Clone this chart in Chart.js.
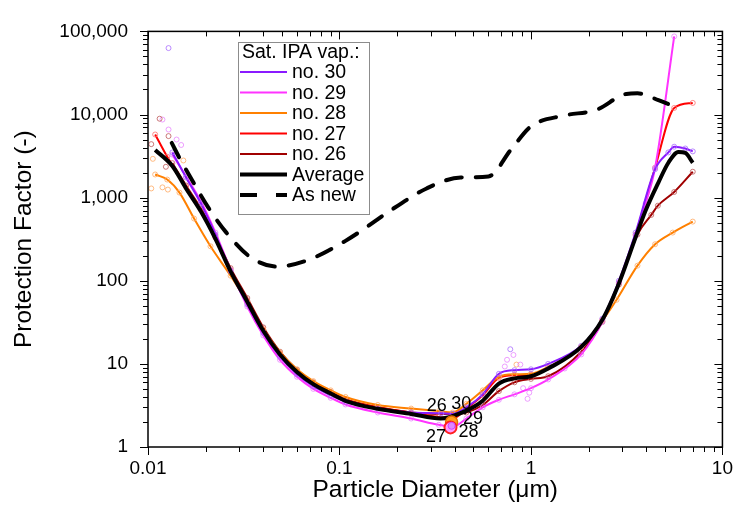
<!DOCTYPE html>
<html>
<head>
<meta charset="utf-8">
<script src="https://cdn.jsdelivr.net/npm/chart.js@4.4.1/dist/chart.umd.min.js"></script>
<style>
  body { margin: 0; background: #fff; }
</style>
</head>
<body>
<canvas id="myChart" width="743" height="513"></canvas>
<script>
// values: x = particle diameter (um), y = protection factor
var avgX = [0.0109, 0.0134, 0.0158, 0.0189, 0.0225, 0.027, 0.033, 0.04, 0.0489, 0.06, 0.073, 0.09, 0.1075, 0.1585, 0.2367, 0.337, 0.458, 0.56, 0.68, 0.82, 1.0, 1.23, 1.83, 2.36, 2.88, 3.52, 3.97, 4.63, 5.22, 5.89, 6.4, 7.0];
var avgY = [3740, 2400, 1290, 680, 320, 130, 56, 25, 13, 8, 5.7, 4.4, 3.6, 2.88, 2.5, 2.2, 2.73, 3.6, 5.8, 6.7, 7.1, 8.8, 16, 34, 93, 333, 700, 1520, 2630, 3540, 3450, 2630];

var newX = [0.0133, 0.0146, 0.017, 0.0207, 0.0256, 0.034, 0.047, 0.067, 0.107, 0.194, 0.285, 0.43, 0.6, 0.79, 1.0, 1.48, 2.2, 3.15, 3.6, 4.63, 5.2];
var newY = [4550, 3000, 1620, 755, 382, 195, 148, 174, 300, 755, 1290, 1750, 1800, 3830, 7200, 9700, 11400, 17700, 18000, 14900, 13400];

var s30X = [0.0134, 0.0158, 0.0189, 0.0225, 0.027, 0.033, 0.04, 0.0489, 0.06, 0.073, 0.09, 0.1075, 0.1585, 0.2367, 0.34, 0.39, 0.46, 0.56, 0.68, 0.82, 1.0, 1.23, 1.83, 2.36, 2.88, 3.52, 4.45, 5.22, 5.6, 6.4, 7.0];
var s30Y = [3500, 1750, 850, 360, 130, 52, 23.5, 12.2, 7.5, 5.4, 4.2, 3.5, 2.9, 2.6, 2.55, 2.5, 3.0, 4.3, 7.6, 8.4, 8.6, 10, 16.5, 35, 100, 380, 2200, 3500, 4100, 3900, 3600];

var s29X = [0.0134, 0.0158, 0.0189, 0.0225, 0.027, 0.033, 0.04, 0.0489, 0.06, 0.073, 0.09, 0.1075, 0.1585, 0.2367, 0.33, 0.39, 0.46, 0.56, 0.68, 0.82, 1.0, 1.23, 1.83, 2.36, 2.88, 3.52, 3.97, 4.45, 5.6];
var s29Y = [3300, 1800, 900, 380, 135, 49, 22, 11.2, 7.0, 5.0, 3.9, 3.25, 2.6, 2.2, 1.85, 1.75, 2.2, 3.0, 3.7, 4.3, 5.1, 6.5, 13, 32, 95, 350, 850, 2290, 87000];

var s28X = [0.0109, 0.0126, 0.0146, 0.0174, 0.0212, 0.027, 0.033, 0.04, 0.0489, 0.06, 0.073, 0.09, 0.1075, 0.1585, 0.2367, 0.33, 0.39, 0.46, 0.56, 0.68, 0.82, 1.0, 1.23, 1.83, 2.36, 2.8, 3.6, 4.45, 5.5, 7.0];
var s28Y = [1900, 1650, 1150, 560, 260, 115, 55, 26, 13.8, 8.6, 6.2, 4.8, 4.0, 3.2, 2.9, 2.7, 2.6, 3.3, 4.8, 7.0, 7.5, 7.6, 9.2, 16, 33, 59, 152, 275, 380, 515];

var s27X = [0.0109, 0.0126, 0.0158, 0.0189, 0.0225, 0.027, 0.033, 0.04, 0.0489, 0.06, 0.073, 0.09, 0.1075, 0.1585, 0.2367, 0.33, 0.39, 0.46, 0.56, 0.68, 0.82, 1.0, 1.23, 1.83, 2.36, 2.88, 3.52, 4.45, 5.6, 7.0];
var s27Y = [5750, 3100, 1350, 720, 330, 135, 58, 26, 13.4, 8.2, 5.9, 4.5, 3.7, 3.0, 2.6, 2.3, 2.2, 2.9, 4.2, 6.8, 7.3, 7.4, 9, 16, 34, 95, 360, 2290, 12000, 13800];

var s26X = [0.0134, 0.0158, 0.0189, 0.0225, 0.027, 0.033, 0.04, 0.0489, 0.06, 0.073, 0.09, 0.1075, 0.1585, 0.2367, 0.33, 0.39, 0.46, 0.56, 0.68, 0.82, 1.0, 1.23, 1.83, 2.36, 2.88, 3.6, 4.25, 4.6, 5.6, 7.0];
var s26Y = [2600, 1400, 740, 345, 142, 62, 27.5, 14, 8.5, 6.0, 4.6, 3.75, 3.0, 2.6, 2.5, 2.5, 2.6, 3.2, 4.7, 6.0, 6.6, 7.1, 14, 32, 90, 360, 620, 800, 1170, 2050];

// scattered raw readings that stand off the fitted lines
var rawX = [0.0128, 0.0119, 0.0115, 0.0104, 0.0106, 0.0104, 0.0119, 0.0127, 0.0128, 0.0128, 0.0141, 0.0149, 0.0153, 0.0124, 0.78, 0.75, 0.81, 0.73, 0.84, 0.88, 0.91, 0.96, 0.98, 1.5];
var rawY = [63000, 8700, 8900, 4400, 2930, 1290, 1330, 1250, 6600, 5500, 5000, 4300, 2800, 2350, 15, 11.2, 12.8, 9.3, 9.8, 9.8, 5.1, 3.8, 4.5, 8.8];
var rawSeries = ["no. 30", "no. 29", "no. 26", "no. 26", "no. 28", "no. 28", "no. 28", "no. 28", "no. 29", "no. 26", "no. 29", "no. 29", "no. 28", "no. 26", "no. 30", "no. 29", "no. 29", "no. 29", "no. 28", "no. 29", "no. 29", "no. 29", "no. 29", "no. 29"];

// minimum markers and their labels
var minX = [0.385, 0.38, 0.385];
var minY = [2.0, 1.72, 1.8];
var minLabels = ["26", "30", "29", "27", "28"];
var minLabelX = [0.322, 0.433, 0.498, 0.319, 0.472];
var minLabelY = [3.13, 3.3, 2.2, 1.31, 1.5];

var colors = {
  "no. 30": "#8a1aff",
  "no. 29": "#ff33ff",
  "no. 28": "#ff8000",
  "no. 27": "#ff0000",
  "no. 26": "#a00000"
};
var markColors = {
  "no. 30": "rgba(170,110,255,0.8)",
  "no. 29": "rgba(230,120,255,0.7)",
  "no. 28": "rgba(255,170,100,0.8)",
  "no. 27": "rgba(255,110,110,0.8)",
  "no. 26": "rgba(190,90,90,0.8)"
};

function pts(xs, ys) {
  return xs.map(function (x, i) { return { x: x, y: ys[i] }; });
}

function series(name, xs, ys) {
  return {
    label: name,
    data: pts(xs, ys),
    borderColor: colors[name],
    borderWidth: 2,
    cubicInterpolationMode: "monotone",
    pointRadius: 2.5,
    pointBorderWidth: 1,
    pointBorderColor: markColors[name],
    pointBackgroundColor: "rgba(0,0,0,0)",
    order: 3
  };
}

var legendItems = [
  { text: "no. 30", color: colors["no. 30"], width: 2 },
  { text: "no. 29", color: colors["no. 29"], width: 2 },
  { text: "no. 28", color: colors["no. 28"], width: 2 },
  { text: "no. 27", color: colors["no. 27"], width: 2 },
  { text: "no. 26", color: colors["no. 26"], width: 2 },
  { text: "Average", color: "#000", width: 4 },
  { text: "As new", color: "#000", width: 4, dash: [17, 19] }
];

var framePlugin = {
  id: "frame",
  afterDraw: function (chart) {
    var c = chart.ctx;
    var a = chart.chartArea;
    var xs = chart.scales.x, ys = chart.scales.y;
    c.save();
    c.strokeStyle = "#000";
    c.lineWidth = 1.5;
    c.strokeRect(a.left, a.top, a.right - a.left, a.bottom - a.top);
    c.lineWidth = 1;
    c.beginPath();
    var e, m, p, len;
    for (e = -2; e < 1; e++) {
      for (m = 1; m <= 10; m++) {
        if (m === 10 && e < 0) continue;
        p = Math.round(xs.getPixelForValue(m * Math.pow(10, e))) + 0.5;
        len = m === 1 || m === 10 ? 8 : 5;
        c.moveTo(p, a.bottom); c.lineTo(p, a.bottom + len);
        c.moveTo(p, a.top); c.lineTo(p, a.top + len);
      }
    }
    for (e = 0; e < 5; e++) {
      for (m = 1; m <= 10; m++) {
        if (m === 10 && e < 4) continue;
        p = Math.round(ys.getPixelForValue(m * Math.pow(10, e))) + 0.5;
        len = m === 1 || m === 10 ? 8 : 5;
        c.moveTo(a.left, p); c.lineTo(a.left - len, p);
        c.moveTo(a.right, p); c.lineTo(a.right - len, p);
      }
    }
    c.stroke();

    // labels at the minima
    c.fillStyle = "#000";
    c.font = "18px 'Liberation Sans', Arial, sans-serif";
    c.textAlign = "center";
    c.textBaseline = "middle";
    minLabels.forEach(function (t, i) {
      c.fillText(t, xs.getPixelForValue(minLabelX[i]), ys.getPixelForValue(minLabelY[i]));
    });

    // legend box
    var bx = 238, by = 42, bw = 131, bh = 172;
    c.fillStyle = "#fff";
    c.fillRect(bx, by, bw, bh);
    c.strokeStyle = "#8c8c8c";
    c.lineWidth = 1;
    c.strokeRect(bx + 0.5, by + 0.5, bw, bh);
    c.fillStyle = "#000";
    c.font = "19.5px 'Liberation Sans', Arial, sans-serif";
    c.textAlign = "left";
    c.fillText("Sat. IPA vap.:", 242, 53);
    legendItems.forEach(function (it, i) {
      var y = 72 + i * 20.5;
      c.beginPath();
      c.strokeStyle = it.color;
      c.lineWidth = it.width;
      c.setLineDash(it.dash || []);
      c.moveTo(240, y); c.lineTo(287, y);
      c.stroke();
      c.setLineDash([]);
      c.fillText(it.text, 292, y + 1);
    });
    c.restore();
  }
};

var datasets = [
  {
    label: "Average",
    data: pts(avgX, avgY),
    borderColor: "#000",
    borderWidth: 4,
    cubicInterpolationMode: "monotone",
    pointRadius: 0,
    order: 1
  },
  {
    label: "As new",
    data: pts(newX, newY),
    borderColor: "#000",
    borderWidth: 4,
    borderDash: [16, 14],
    borderCapStyle: "round",
    cubicInterpolationMode: "monotone",
    pointRadius: 0,
    order: 1
  },
  series("no. 30", s30X, s30Y),
  series("no. 29", s29X, s29Y),
  series("no. 28", s28X, s28Y),
  series("no. 27", s27X, s27Y),
  series("no. 26", s26X, s26Y),
  {
    type: "scatter",
    label: "raw",
    data: pts(rawX, rawY),
    showLine: false,
    pointRadius: 2.5,
    pointBorderWidth: 1,
    pointBorderColor: rawSeries.map(function (s) { return markColors[s]; }),
    pointBackgroundColor: "rgba(0,0,0,0)",
    order: 4
  },
  {
    type: "scatter",
    label: "minima",
    data: pts(minX, minY),
    showLine: false,
    pointRadius: [6, 6, 3.5],
    pointBorderWidth: [1.5, 2, 1],
    pointBorderColor: ["#e07000", "#ff2020", "#cc44ff"],
    pointBackgroundColor: ["#ffa020", "#ff99ff", "#dd88ff"],
    order: 0
  }
];

Chart.defaults.font.family = "'Liberation Sans', Arial, sans-serif";
Chart.defaults.color = "#000";

var ctx = document.getElementById("myChart");
var myChart = new Chart(ctx, {
  type: "line",
  data: { datasets: datasets },
  plugins: [framePlugin],
  options: {
    responsive: false,
    animation: false,
    layout: { padding: { top: 23, right: 10, left: 0, bottom: 0 } },
    plugins: {
      legend: { display: false },
      tooltip: { enabled: false }
    },
    scales: {
      x: {
        type: "logarithmic",
        min: 0.01,
        max: 10,
        grid: { display: false, drawTicks: false },
        border: { display: false },
        afterFit: function (s) { s.height = 66; },
        ticks: {
          autoSkip: false,
          maxRotation: 0,
          padding: 10,
          font: { size: 19 },
          callback: function (v) {
            var e = Math.log10(v);
            if (Math.abs(e - Math.round(e)) > 1e-6) return "";
            return String(Number(v.toPrecision(3)));
          }
        },
        title: {
          display: true,
          text: "Particle Diameter (\u03bcm)",
          font: { size: 24.5 },
          padding: { top: 0, bottom: 8 }
        }
      },
      y: {
        type: "logarithmic",
        min: 1,
        max: 100000,
        grid: { display: false, drawTicks: false },
        border: { display: false },
        afterFit: function (s) { s.width = 148; },
        ticks: {
          autoSkip: false,
          padding: 20,
          font: { size: 19 },
          callback: function (v) {
            var e = Math.log10(v);
            if (Math.abs(e - Math.round(e)) > 1e-6) return "";
            return Math.round(v).toLocaleString("en-US");
          }
        },
        title: {
          display: true,
          text: "Protection Factor (-)",
          font: { size: 24.5 },
          padding: { top: 10, bottom: 0 }
        }
      }
    }
  }
});
</script>
</body>
</html>
